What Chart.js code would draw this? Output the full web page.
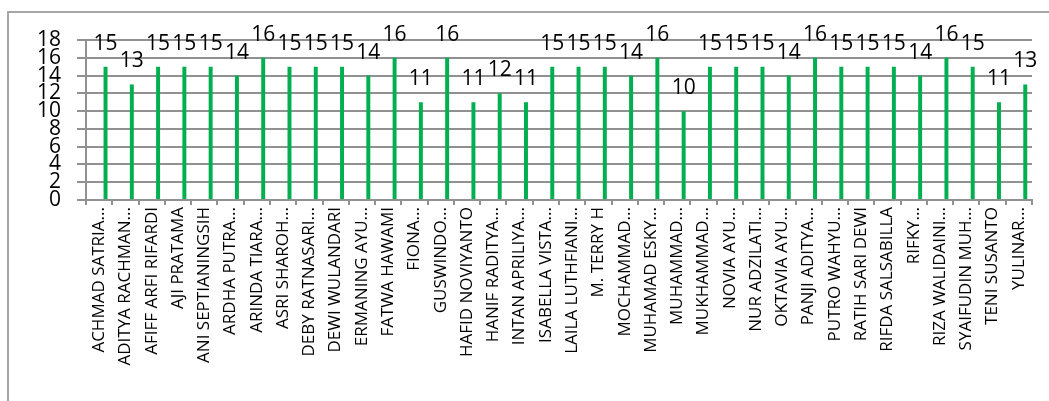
<!DOCTYPE html>
<html>
<head>
<meta charset="utf-8">
<script src="https://cdn.jsdelivr.net/npm/chart.js@4"></script>
<style>
  body { margin: 0; background: #fff; }
  #wrap { position: relative; width: 1049px; height: 401px; overflow: hidden; }
  #frame { position: absolute; left: 7px; top: 11px; width: 1100px; height: 450px; border: 2px solid #a6a6a6; }
  canvas { position: absolute; left: 0; top: 0; }
</style>
</head>
<body>
<div id="wrap">
  <div id="frame"></div>
  <canvas id="nilaiChart" width="1049" height="401"></canvas>
</div>
<script>
const nama = [
  "ACHMAD SATRIA...", "ADITYA RACHMAN...", "AFIFF ARFI RIFARDI", "AJI PRATAMA",
  "ANI SEPTIANINGSIH", "ARDHA PUTRA...", "ARINDA TIARA...", "ASRI SHAROH...",
  "DEBY RATNASARI...", "DEWI WULANDARI", "ERMANING AYU...", "FATWA HAWAMI",
  "FIONA...", "GUSWINDO...", "HAFID NOVIYANTO", "HANIF RADITYA...",
  "INTAN APRILIYA...", "ISABELLA VISTA...", "LAILA LUTHFIANI...", "M. TERRY H",
  "MOCHAMMAD...", "MUHAMAD ESKY...", "MUHAMMAD...", "MUKHAMMAD...",
  "NOVIA AYU...", "NUR ADZILATI...", "OKTAVIA AYU...", "PANJI ADITYA...",
  "PUTRO WAHYU...", "RATIH SARI DEWI", "RIFDA SALSABILLA", "RIFKY...",
  "RIZA WALIDAINI...", "SYAIFUDIN MUH...", "TENI SUSANTO", "YULINAR..."
];
const nilai = [15, 13, 15, 15, 15, 14, 16, 15, 15, 15, 14, 16, 11, 16, 11, 12, 11, 15,
               15, 15, 14, 16, 10, 15, 15, 15, 14, 16, 15, 15, 15, 14, 16, 15, 11, 13];
// seri kosong (di Excel ada seri kedua tanpa nilai, batang jadi bergeser ke kanan)
const kosong = nama.map(() => null);
const skalaMax = 18;
const skalaStep = 2;

// label angka di atas batang
const labelNilai = {
  id: "labelNilai",
  afterDatasetsDraw(chart) {
    const ctx = chart.ctx;
    const meta = chart.getDatasetMeta(1);
    ctx.save();
    ctx.font = "21px 'Open Sans'";
    ctx.fillStyle = "#000";
    ctx.textAlign = "center";
    ctx.textBaseline = "alphabetic";
    meta.data.forEach((bar, i) => {
      ctx.fillText(String(nilai[i]), bar.x, bar.y - 17);
    });
    ctx.restore();
  }
};

new Chart(document.getElementById("nilaiChart"), {
  type: "bar",
  data: {
    labels: nama,
    datasets: [
      { data: kosong, backgroundColor: "transparent" },
      { data: nilai, backgroundColor: "#00b050" }
    ]
  },
  options: {
    responsive: false,
    animation: false,
    categoryPercentage: 0.974,
    barPercentage: 0.31,
    layout: { padding: { top: 40, right: 17, bottom: 0, left: 0 } },
    plugins: {
      legend: { display: false },
      tooltip: { enabled: false }
    },
    scales: {
      x: {
        grid: { drawOnChartArea: false, drawTicks: true, tickLength: 5, color: "#919191", lineWidth: 2 },
        border: { color: "#919191", width: 2 },
        ticks: {
          autoSkip: false,
          maxRotation: 90,
          minRotation: 90,
          padding: 2,
          color: "#000",
          font: { family: "'Open Sans'", size: 17 }
        },
        afterFit(scale) { scale.height = 201; }
      },
      y: {
        min: 0,
        max: skalaMax,
        grid: { color: "#919191", lineWidth: 2, tickLength: 9 },
        border: { color: "#919191", width: 2 },
        ticks: {
          stepSize: skalaStep,
          autoSkip: false,
          padding: 16,
          color: "#000",
          font: { family: "'Open Sans'", size: 21, lineHeight: 1 }
        },
        afterFit(scale) { scale.width = 86; }
      }
    }
  },
  plugins: [labelNilai]
});
</script>
</body>
</html>
